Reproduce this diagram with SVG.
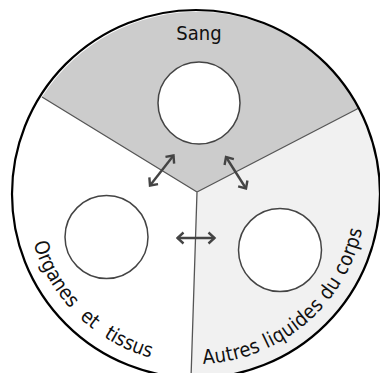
<svg xmlns="http://www.w3.org/2000/svg" width="380" height="373" viewBox="0 0 380 373">
<style>
.sep{stroke:#555;stroke-width:1.3;fill:none}
.inner{fill:#fff;stroke:#444;stroke-width:1.5}
.arr{stroke:#444;stroke-width:2.4;fill:none;marker-start:url(#head);marker-end:url(#head)}
.lbl{font-family:"DejaVu Sans Condensed","DejaVu Sans",sans-serif;font-stretch:condensed;font-size:20px;fill:#111}
</style>
<defs>
<marker id="head" viewBox="-8 -7 10 14" markerWidth="10" markerHeight="14" refX="0" refY="0" orient="auto-start-reverse" markerUnits="userSpaceOnUse">
<path d="M -6 -5.5 L 0 0 L -6 5.5" fill="none" stroke="#444" stroke-width="2.4" stroke-linejoin="miter"/>
</marker>
<path id="arc" d="M 26 194 A 170 170 0 0 0 366 194"/>
</defs>
<rect width="380" height="373" fill="#fff"/>
<g id="sectors">
<path id="sang-sector" d="M 197 192 L 42 97 A 184 184 0 0 1 359 108 Z" fill="#cccccc"/>
<path id="autres-sector" d="M 197 192 L 359 108 A 184 184 0 0 1 191 377.9 Z" fill="#f1f1f1"/>
</g>
<g id="separators">
<path class="sep" d="M 197 192 L 42 97 M 197 192 L 359 108 M 197 192 L 191 378"/>
</g>
<circle cx="196" cy="194" r="184" fill="none" stroke="#000" stroke-width="2.2"/>
<g id="node-sang">
<circle class="inner" cx="199" cy="103" r="41"/>
<text class="lbl" x="199" y="40" text-anchor="middle">Sang</text>
</g>
<g id="node-organes">
<circle class="inner" cx="106.5" cy="237" r="41.5"/>
<text class="lbl" word-spacing="7"><textPath href="#arc" startOffset="50">Organes et tissus</textPath></text>
</g>
<g id="node-autres">
<circle class="inner" cx="280" cy="250" r="41.5"/>
<text class="lbl" letter-spacing="0.3"><textPath href="#arc" startOffset="274">Autres liquides du corps</textPath></text>
</g>
<g id="connectors">
<line class="arr" x1="150" y1="185.5" x2="173.5" y2="155.5"/>
<line class="arr" x1="226" y1="157" x2="246" y2="188.5"/>
<line class="arr" x1="177.5" y1="238" x2="214.5" y2="238"/>
</g>
</svg>
